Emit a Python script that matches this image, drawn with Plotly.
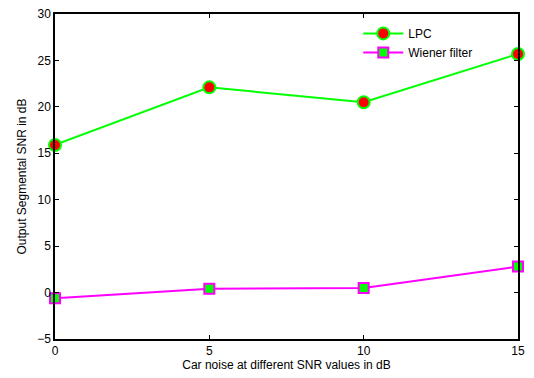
import plotly.graph_objects as go

x_vals = [0, 5, 10, 15]
lpc = [15.9, 22.1, 20.5, 25.7]
wiener = [-0.6, 0.4, 0.5, 2.8]
x_ticks = [0, 5, 10, 15]
y_ticks = [-5, 0, 5, 10, 15, 20, 25, 30]

fig = go.Figure()
fig.add_trace(go.Scatter(x=x_vals, y=lpc, name="LPC", mode="lines+markers",
                         line=dict(color="#00ff00", width=2),
                         marker=dict(symbol="circle", size=12, color="#ff0000",
                                     line=dict(color="#00ff00", width=2)),
                         cliponaxis=False))
fig.add_trace(go.Scatter(x=x_vals, y=wiener, name="Wiener filter", mode="lines+markers",
                         line=dict(color="#ff00ff", width=2),
                         marker=dict(symbol="square", size=10, color="#00ff00",
                                     line=dict(color="#ff00ff", width=2)),
                         cliponaxis=False))

axis_common = dict(showline=True, linecolor="black", linewidth=1.5, mirror="ticks",
                   ticks="inside", ticklen=4, tickcolor="black", showgrid=False,
                   zeroline=False, automargin=False, tickfont=dict(size=12, color="black"))
fig.update_xaxes(range=[0, 15], tickvals=x_ticks,
                 title=dict(text="Car noise at different SNR values in dB",
                            font=dict(size=12, color="black"), standoff=2),
                 **axis_common)
fig.update_yaxes(range=[-5, 30], tickvals=y_ticks,
                 title=dict(text="Output Segmental SNR in dB",
                            font=dict(size=12, color="black"), standoff=8),
                 **axis_common)
fig.update_layout(width=534, height=378, margin=dict(l=55, r=16, t=14, b=39, autoexpand=False),
                  paper_bgcolor="white", plot_bgcolor="white",
                  font=dict(family="Liberation Sans, Arial", size=12, color="black"),
                  legend=dict(x=0.655, y=0.985, xanchor="left", yanchor="top",
                              bgcolor="rgba(255,255,255,0)", font=dict(size=12),
                              itemwidth=40, tracegroupgap=0))
fig.write_html("out.html", config={"displayModeBar": False},
               post_script="document.body.style.margin='0';document.body.style.padding='0';")
